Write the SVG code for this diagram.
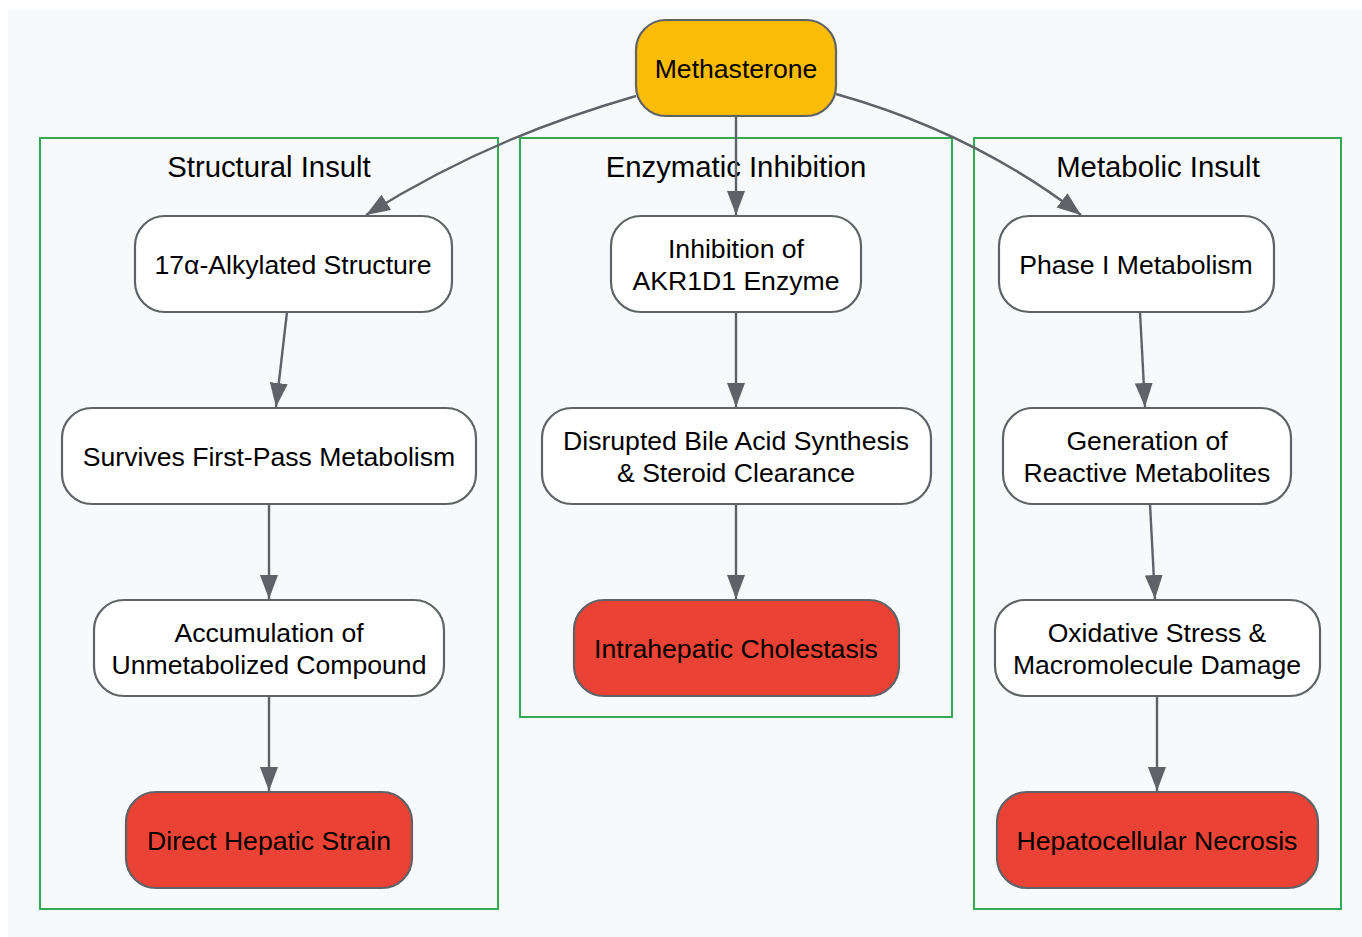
<svg xmlns="http://www.w3.org/2000/svg" width="1362" height="937" viewBox="0 0 1362 937">
<defs>
<style>
.bg{fill:#f8f9fa}
.cl{fill:none;stroke:#34a853;stroke-width:2}
.ct{font-family:"Liberation Sans",Arial,sans-serif;font-size:29.3px;fill:#000;text-anchor:middle}
.n rect{fill:#fff;stroke:#5f6368;stroke-width:2.2}
.n.y rect{fill:#fbbc05}
.n.r rect{fill:#ea4335}
.n text{font-family:"Liberation Sans",Arial,sans-serif;font-size:26.6px;fill:#000;text-anchor:middle}
.e path{fill:none;stroke:#5f6368;stroke-width:2.4}
</style>
<marker id="a" viewBox="0 0 24 18" refX="24" refY="9" markerWidth="24" markerHeight="18" markerUnits="userSpaceOnUse" orient="auto"><path d="M0,0 L24,9 L0,18 z" fill="#5f6368"/></marker>
</defs>
<rect class="bg" x="8" y="10" width="1354" height="927"/>
<g id="cluster-structural"><rect class="cl" x="40" y="138" width="458" height="771"/><text class="ct" x="269" y="177">Structural Insult</text></g>
<g id="cluster-enzymatic"><rect class="cl" x="520" y="138" width="432" height="579"/><text class="ct" x="736" y="177">Enzymatic Inhibition</text></g>
<g id="cluster-metabolic"><rect class="cl" x="974" y="138" width="367" height="771"/><text class="ct" x="1158" y="177">Metabolic Insult</text></g>
<g id="connectors" class="e">
<path d="M636,96 C560,118 470,150 366,215" marker-end="url(#a)"/>
<path d="M736,116 L736,215" marker-end="url(#a)"/>
<path d="M836,94 C900,112 990,145 1081,215" marker-end="url(#a)"/>
<path d="M287,312 L276,407" marker-end="url(#a)"/>
<path d="M269,504 L269,599" marker-end="url(#a)"/>
<path d="M269,696 L269,791" marker-end="url(#a)"/>
<path d="M736,312 L736,407" marker-end="url(#a)"/>
<path d="M736,504 L736,599" marker-end="url(#a)"/>
<path d="M1140,312 L1145,407" marker-end="url(#a)"/>
<path d="M1150,504 L1155,599" marker-end="url(#a)"/>
<path d="M1157,696 L1157,791" marker-end="url(#a)"/>
</g>
<g id="methasterone" class="n y"><rect x="636" y="20" width="200" height="96" rx="30"/><text x="736" y="78">Methasterone</text></g>
<g id="alkylated" class="n"><rect x="135" y="216" width="317" height="96" rx="30"/><text x="293" y="274">17α-Alkylated Structure</text></g>
<g id="survives" class="n"><rect x="62" y="408" width="414" height="96" rx="30"/><text x="269" y="466">Survives First-Pass Metabolism</text></g>
<g id="accumulation" class="n"><rect x="94" y="600" width="350" height="96" rx="30"/><text x="269" y="642">Accumulation of</text><text x="269" y="674">Unmetabolized Compound</text></g>
<g id="direct" class="n r"><rect x="126" y="792" width="286" height="96" rx="30"/><text x="269" y="850">Direct Hepatic Strain</text></g>
<g id="inhibition" class="n"><rect x="611" y="216" width="250" height="96" rx="30"/><text x="736" y="258">Inhibition of</text><text x="736" y="290">AKR1D1 Enzyme</text></g>
<g id="disrupted" class="n"><rect x="542" y="408" width="389" height="96" rx="30"/><text x="736" y="450">Disrupted Bile Acid Synthesis</text><text x="736" y="482">&amp; Steroid Clearance</text></g>
<g id="cholestasis" class="n r"><rect x="574" y="600" width="325" height="96" rx="30"/><text x="736" y="658">Intrahepatic Cholestasis</text></g>
<g id="phase1" class="n"><rect x="999" y="216" width="275" height="96" rx="30"/><text x="1136" y="274">Phase I Metabolism</text></g>
<g id="generation" class="n"><rect x="1003" y="408" width="288" height="96" rx="30"/><text x="1147" y="450">Generation of</text><text x="1147" y="482">Reactive Metabolites</text></g>
<g id="oxidative" class="n"><rect x="995" y="600" width="325" height="96" rx="30"/><text x="1157" y="642">Oxidative Stress &amp;</text><text x="1157" y="674">Macromolecule Damage</text></g>
<g id="necrosis" class="n r"><rect x="997" y="792" width="321" height="96" rx="30"/><text x="1157" y="850">Hepatocellular Necrosis</text></g>
</svg>
